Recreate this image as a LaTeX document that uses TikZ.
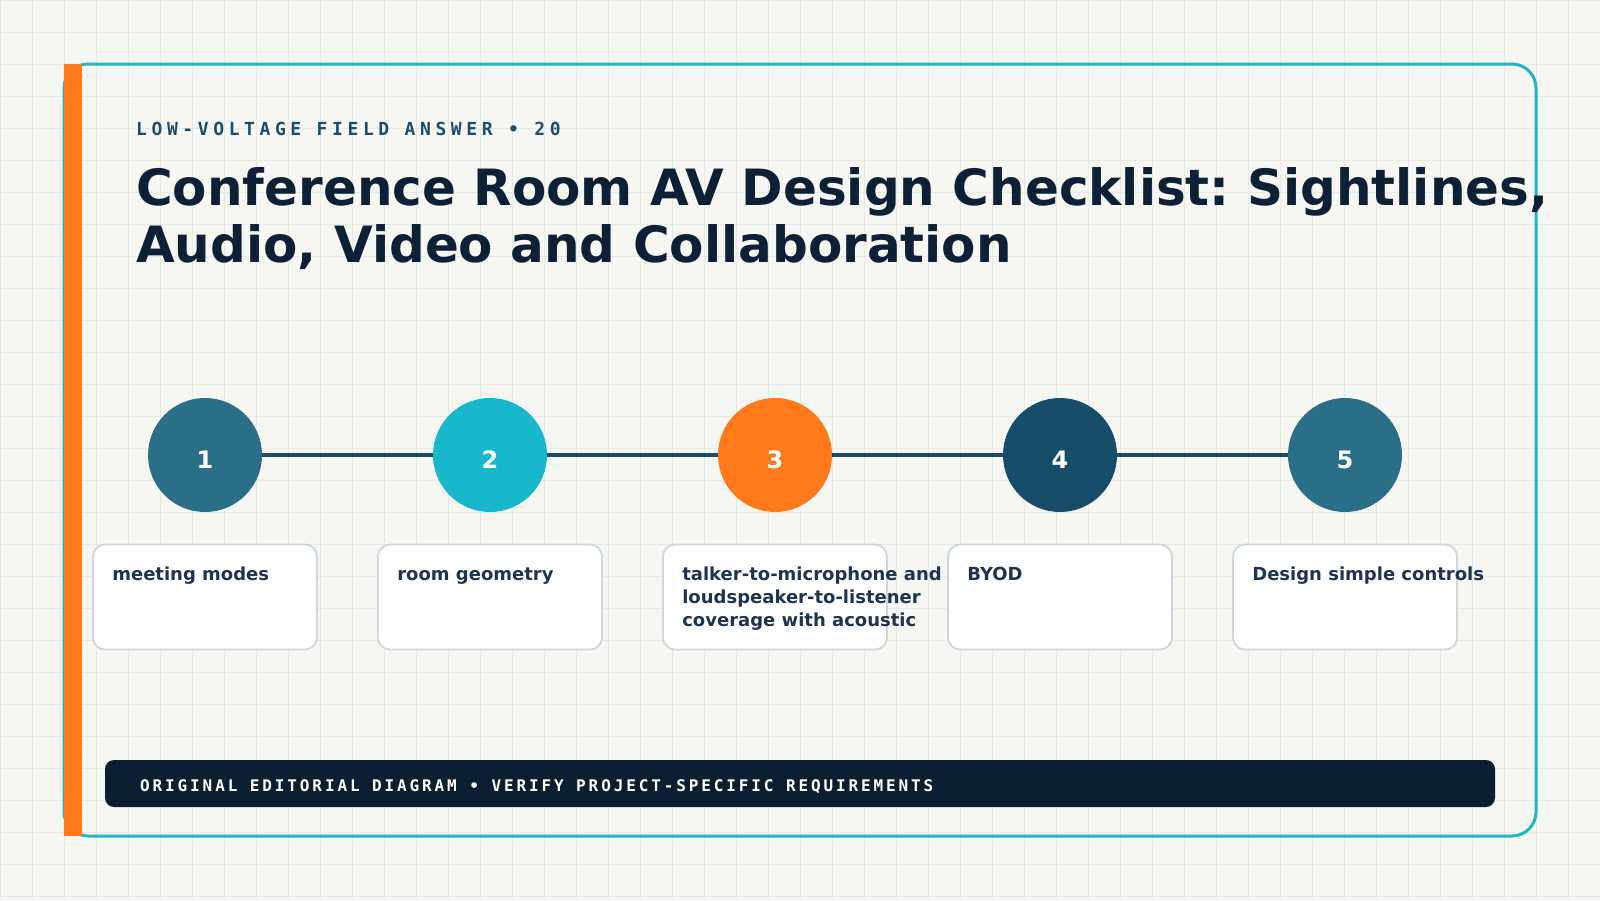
\documentclass[tikz,border=0pt]{standalone}
\usepackage{fontspec}
\setmainfont{DejaVu Sans}
\newfontfamily\monohead[LetterSpace=25.5]{DejaVu Sans Mono}
\newfontfamily\monofoot[LetterSpace=18]{DejaVu Sans Mono}
\frenchspacing
\definecolor{bgc}{HTML}{F6F6F2}
\definecolor{gridc}{HTML}{E4EAE6}
\definecolor{framec}{HTML}{22B5C6}
\definecolor{orangec}{HTML}{FF7A1A}
\definecolor{tealc}{HTML}{2B6E87}
\definecolor{cyanc}{HTML}{17B8CB}
\definecolor{navyc}{HTML}{174C6B}
\definecolor{linec}{HTML}{1B4D6B}
\definecolor{titlec}{HTML}{0D2035}
\definecolor{headc}{HTML}{1D4D6B}
\definecolor{cardtextc}{HTML}{1E3550}
\definecolor{cardborderc}{HTML}{CCD8DC}
\definecolor{footc}{HTML}{0B1F33}
\tikzset{
  gridline/.style={draw=gridc, line width=0.8pt},
  stepcirc/.style={circle, minimum size=114pt, inner sep=0pt, draw=none},
  numtext/.style={inner sep=0pt, text=white, font={\fontsize{24}{28}\selectfont\bfseries}},
  conn/.style={draw=linec, line width=4.7pt},
  card/.style={rectangle, rounded corners=12pt, minimum width=224pt, minimum height=105pt, fill=white, draw=cardborderc, line width=1.8pt},
  cardtext/.style={anchor=base west, inner sep=0pt, text=cardtextc, font={\fontsize{18}{23}\selectfont\bfseries}},
  titletext/.style={anchor=base west, inner sep=0pt, text=titlec, font={\fontsize{50}{57}\selectfont\bfseries}},
}
\newcommand{\cardlines}[1]{\begin{tabular}[t]{@{}l@{}}#1\end{tabular}}
\begin{document}
\begin{tikzpicture}[x=1pt, y=-1pt]
\useasboundingbox (0,0) rectangle (1600,900);
\fill[bgc] (0,0) rectangle (1600,900);
\foreach \i in {0,32,...,1600} \draw[gridline] (\i,0) -- (\i,900);
\foreach \j in {0,32,...,896} \draw[gridline] (0,\j) -- (1600,\j);
% frame
\draw[framec, line width=3pt, rounded corners=24pt] (64,64) rectangle (1536,836);
\fill[orangec] (64,64) rectangle (82,836);
% heading
\node[anchor=base west, inner sep=0pt, text=headc, font={\monohead\fontsize{18}{22}\selectfont\bfseries}] (head) at (136,135) {LOW-VOLTAGE FIELD ANSWER • 20};
\node[titletext] (t1) at (136,205) {Conference Room AV Design Checklist: Sightlines,};
\node[titletext] (t2) at (136,262) {Audio, Video and Collaboration};
% steps
\node[stepcirc, fill=tealc] (s1) at (205,455) {};
\node[stepcirc, fill=cyanc] (s2) at (490,455) {};
\node[stepcirc, fill=orangec] (s3) at (775,455) {};
\node[stepcirc, fill=navyc] (s4) at (1060,455) {};
\node[stepcirc, fill=tealc] (s5) at (1345,455) {};
\draw[conn] (s1) -- (s2);
\draw[conn] (s2) -- (s3);
\draw[conn] (s3) -- (s4);
\draw[conn] (s4) -- (s5);
\node[numtext] (n1) at (205,460) {1};
\node[numtext] (n2) at (490,460) {2};
\node[numtext] (n3) at (775,460) {3};
\node[numtext] (n4) at (1060,460) {4};
\node[numtext] (n5) at (1345,460) {5};
% cards
\node[card] (c1) at (205,597) {};
\node[card] (c2) at (490,597) {};
\node[card] (c3) at (775,597) {};
\node[card] (c4) at (1060,597) {};
\node[card] (c5) at (1345,597) {};
\node[cardtext] (l1) at ([shift={(20,37)}]c1.north west) {meeting modes};
\node[cardtext] (l2) at ([shift={(20,37)}]c2.north west) {room geometry};
\node[cardtext] (l3) at ([shift={(20,37)}]c3.north west) {\cardlines{talker-to-microphone and\\loudspeaker-to-listener\\coverage with acoustic}};
\node[cardtext] (l4) at ([shift={(20,37)}]c4.north west) {BYOD};
\node[cardtext] (l5) at ([shift={(20,37)}]c5.north west) {Design simple controls};
% footer
\node[rectangle, rounded corners=9pt, fill=footc, minimum width=1390pt, minimum height=47pt, inner sep=0pt] (foot) at (800,783.5) {};
\node[anchor=base west, inner sep=0pt, text=white, font={\monofoot\fontsize{16}{19}\selectfont\bfseries}] (foottext) at (140,791) {ORIGINAL EDITORIAL DIAGRAM • VERIFY PROJECT-SPECIFIC REQUIREMENTS};
\end{tikzpicture}
\end{document}
